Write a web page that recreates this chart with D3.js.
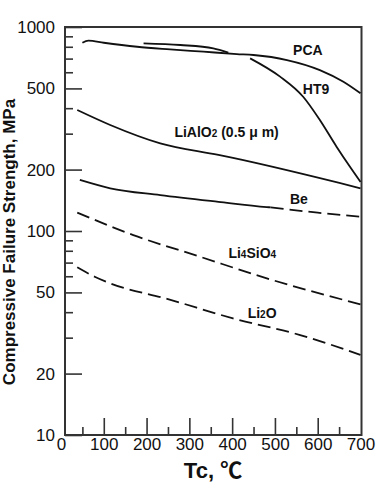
<html>
<script src="https://d3js.org/d3.v7.min.js"></script>
<style>
  body { margin: 0; background: #fff; }
  svg text { font-family: "Liberation Sans", Arial, "Noto Sans CJK JP", sans-serif; fill: #111; }
  .tick line { stroke: #333; stroke-width: 1.6; }
  .lbl { font-size: 14px; font-weight: bold; }
</style>
<body>
<svg width="380" height="484"></svg>
<script>
// temperatures (C) and compressive failure strength (MPa)
const pcaTemp = [50, 64, 100, 178, 255, 333, 411, 450, 528, 605, 660, 700];
const pcaStrength = [837, 858, 837, 800, 777, 757, 737, 729, 689, 615, 539, 473];

const pcaUpperTemp = [193, 279, 356, 391];
const pcaUpperStrength = [832, 816, 786, 748];

const ht9Temp = [442, 512, 566, 605, 644, 675, 700];
const ht9Strength = [702, 571, 455, 350, 259, 207, 174];

const lialo2Temp = [38, 115, 232, 368, 402, 700];
const lialo2Strength = [392, 331, 269, 236, 228, 162];

const beTemp = [44, 115, 232, 368, 481, 490];
const beStrength = [178, 162, 150, 139, 131, 130.5];
const beDashTemp = [490, 600, 700];
const beDashStrength = [130.5, 123, 117.5];

const li4sio4Temp = [38, 169, 325, 481, 700];
const li4sio4Strength = [123, 95.5, 74.8, 58.6, 43.7];

const li2oTemp = [38, 80, 115, 248, 402, 559, 700];
const li2oStrength = [66.4, 59.5, 55.4, 46.5, 37.3, 30.9, 24.7];

const xLabelTicks = [0, 100, 200, 300, 400, 500, 600, 700];
const xMajorTicks = [100, 200, 300, 400, 500, 600];
const xMinorTicks = [50, 150, 250, 350, 450, 550, 650];
const yMajorTicks = [1000, 500, 200, 100, 50, 20, 10];
const yMinorTicks = [900, 800, 700, 600, 400, 300, 90, 80, 70, 60, 40, 30];

// "_n" marks a subscript digit
const labelNames = ["PCA", "HT9", "LiAlO_2 (0.5 \u03bc m)", "Be", "Li_4SiO_4", "Li_2O"];
const labelTemps = [577, 596, 387, 556, 447, 470];
const labelStrengths = [771, 497, 307, 143.6, 78, 39.6];

var svg = d3.select("svg");
var x = d3.scaleLinear().domain([0, 700]).range([61, 360.5]);
var y = d3.scaleLog().domain([10, 1000]).range([435, 27]);

//frame
svg.append("rect")
  .attr("x", 65).attr("y", 27)
  .attr("width", 296.5).attr("height", 408)
  .attr("fill", "none").attr("stroke", "#333").attr("stroke-width", 2);

//y axis
svg.append("g").attr("transform", "translate(65,0)")
  .call(d3.axisLeft(y).tickValues(yMajorTicks).tickSize(-17).tickPadding(10).tickFormat(d3.format("d")))
  .call(g => g.select(".domain").remove());
svg.append("g").attr("transform", "translate(65,0)")
  .call(d3.axisLeft(y).tickValues(yMinorTicks).tickSize(-8).tickFormat(""))
  .call(g => g.select(".domain").remove());

//x axis
svg.append("g").attr("transform", "translate(0,435)")
  .call(d3.axisBottom(x).tickValues(xLabelTicks).tickSize(0).tickPadding(3))
  .call(g => g.select(".domain").remove());
svg.append("g").attr("transform", "translate(0,435)")
  .call(d3.axisBottom(x).tickValues(xMajorTicks).tickSize(-17).tickFormat(""))
  .call(g => g.select(".domain").remove());
svg.append("g").attr("transform", "translate(0,435)")
  .call(d3.axisBottom(x).tickValues(xMinorTicks).tickSize(-8).tickFormat(""))
  .call(g => g.select(".domain").remove());
svg.selectAll(".tick text").attr("fill", "#111").style("font-size", "17px");

//curves
var line = d3.line()
  .x(function(d) { return x(d[0]); })
  .y(function(d) { return y(d[1]); })
  .curve(d3.curveMonotoneX);

function curve(temps, vals, dashed) {
  svg.append("path")
    .datum(d3.zip(temps, vals))
    .attr("d", line)
    .attr("fill", "none")
    .attr("stroke", "#111")
    .attr("stroke-width", 1.8)
    .attr("stroke-dasharray", dashed ? "13,6" : null);
}
curve(pcaTemp, pcaStrength, false);
curve(pcaUpperTemp, pcaUpperStrength, false);
curve(ht9Temp, ht9Strength, false);
curve(lialo2Temp, lialo2Strength, false);
curve(beTemp, beStrength, false);
curve(beDashTemp, beDashStrength, true);
curve(li4sio4Temp, li4sio4Strength, true);
curve(li2oTemp, li2oStrength, true);

//curve labels
labelNames.forEach(function(name, i) {
  var t = svg.append("text").attr("class", "lbl")
    .attr("x", x(labelTemps[i])).attr("y", y(labelStrengths[i]))
    .attr("dy", "0.36em").attr("text-anchor", "middle");
  name.split(/(_\d)/).forEach(function(p) {
    if (p === "") return;
    if (p[0] === "_") t.append("tspan").style("font-size", "10px").text(p.slice(1));
    else t.append("tspan").text(p);
  });
});

//axis titles
svg.append("text")
  .attr("x", 213).attr("y", 478)
  .attr("text-anchor", "middle")
  .style("font-size", "22px").style("font-weight", "bold")
  .text("Tc, \u2103");

svg.append("text")
  .attr("transform", "translate(15,242) rotate(-90)")
  .attr("text-anchor", "middle")
  .style("font-size", "17px").style("font-weight", "bold")
  .text("Compressive Failure Strength, MPa");
</script>
</body>
</html>
